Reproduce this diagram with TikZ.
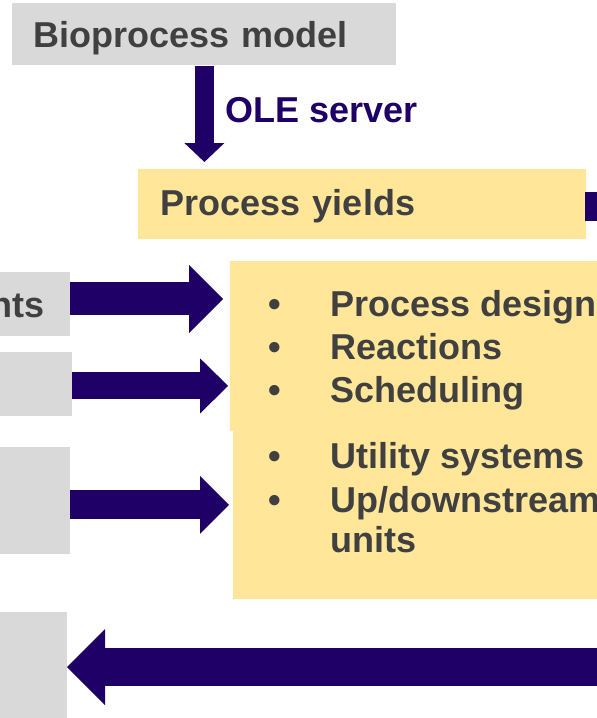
\documentclass[tikz,border=0pt]{standalone}
\usepackage{fontspec}
\setmainfont{Liberation Sans}
\usetikzlibrary{arrows.meta}
\definecolor{oleblue}{RGB}{30, 0, 102}
\definecolor{boxgray}{RGB}{217, 217, 217}
\definecolor{boxyellow}{RGB}{255, 230, 153}
\definecolor{darktext}{RGB}{64, 64, 64}
\newcommand{\itemdot}{\makebox[31pt][l]{\textbullet}}
\newcommand{\itemgap}{\hspace*{31pt}}

\begin{document}
\begin{tikzpicture}[
    x=0.5pt, y=-0.5pt,
    box/.style={rectangle, inner xsep=0pt, inner ysep=0pt, text height=13pt, text depth=0pt,
                font=\fontsize{18}{21.5}\selectfont\bfseries, text=darktext},
    grey/.style={box, fill=boxgray},
    yellow/.style={box, fill=boxyellow},
    items/.style={inner sep=0pt, align=left, text=darktext, font=\fontsize{18}{20.4}\selectfont\bfseries},
    fat/.style n args={3}{oleblue, line width=#1, -{Triangle[length=#2, width=#3, line width=0pt]}}
]
\useasboundingbox (0,0) rectangle (597,718);
\clip (0,0) rectangle (597,718);

% Boxes
\node[grey, anchor=north west, minimum height=31pt, inner xsep=10.5pt, text width=171pt, align=left] (model) at (12,3) {Bioprocess model};
\node[yellow, anchor=north west, minimum height=35pt, inner xsep=11.25pt, text width=201.5pt, align=left, text depth=2pt] (yields) at (138,169) {Process yields};
\node[grey, anchor=north east, minimum height=32pt, inner xsep=12.5pt, text width=60pt, align=right] (g1) at (70,272) {nts};
\node[grey, anchor=north east, minimum height=32pt, minimum width=86pt] (g2) at (72,352) {};
\node[grey, anchor=north east, minimum height=53.5pt, minimum width=85pt] (g3) at (70,447) {};
\node[grey, anchor=north east, minimum height=84pt, minimum width=85pt] (g4) at (67,612) {};
\node[yellow, anchor=north west, minimum height=85pt, minimum width=200pt] (list1) at (229.3,261) {};
\node[yellow, anchor=north west, minimum height=84pt, minimum width=200pt] (list2) at (233,431) {};

% Lists
\node[items, anchor=north west] (items1) at (268,290.5) {\itemdot Process design\\[1pt] \itemdot Reactions\\[1pt] \itemdot Scheduling};
\node[items, anchor=north west] (items2) at (268,442.3) {\itemdot Utility systems\\[1.25pt] \itemdot Up/downstream\\ \itemgap units};

% Arrows
\draw[fat={9.5pt}{9.5pt}{20pt}, shorten >=3.5pt] (model.south) -- (model.south |- yields.north);
\node[font=\fontsize{18}{21.5}\selectfont\bfseries, text=oleblue, anchor=base west, inner sep=0pt] (ole) at (225,122) {OLE server};
\draw[fat={16.5pt}{17pt}{34pt}, shorten >=3.1pt] ([yshift=2.75pt]g1.east) -- ([yshift=2.75pt]g1.east -| list1.west);
\draw[fat={13.5pt}{14pt}{27.5pt}, shorten >=0.6pt] ([yshift=-0.75pt]g2.east) -- ([yshift=-0.75pt]g2.east -| list1.west);
\draw[fat={14.5pt}{14.5pt}{29pt}, shorten >=2pt] ([yshift=-2pt]g3.east) -- ([yshift=-2pt]g3.east -| list2.west);

% Off-page links
\coordinate (out) at (660,206.5);
\coordinate (back) at (660,667);
\draw[oleblue, line width=14.5pt, shorten <=-1pt] (out -| yields.east) -- (out);
\draw[fat={19pt}{19pt}{38pt}] (back) -- (back -| g4.east);

\end{tikzpicture}
\end{document}
